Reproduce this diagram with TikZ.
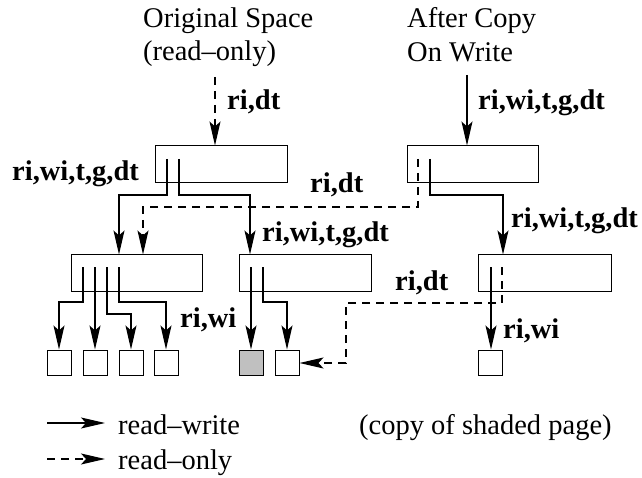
\documentclass[tikz,border=0pt]{standalone}
\usepackage{fontspec}
\setmainfont{Liberation Serif}
\usetikzlibrary{arrows.meta,calc}
\begin{document}
\begin{tikzpicture}[x=1pt,y=-1pt,
  every node/.style={font=\fontsize{28.5}{33}\selectfont},
  lbl/.style={anchor=base west,inner sep=0pt,font=\fontsize{28.5}{33}\selectfont\bfseries},
  txt/.style={anchor=base west,inner sep=0pt},
  page/.style={draw,line width=1pt,inner sep=0pt,minimum height=37pt},
  leaf/.style={draw,line width=1pt,inner sep=0pt,minimum width=24pt,minimum height=25pt},
  tip/.style={-{Stealth[length=24pt,width=11pt,inset=5pt]}},
  rw/.style={line width=1.1pt,tip},
  ro/.style={line width=1.1pt,tip,dash pattern=on 8pt off 6pt}]
\useasboundingbox (0,0) rectangle (642,478);
% headings
\node[txt] (h1) at (143,28) {Original Space};
\node[txt] (h2) at (143,61) {(read–only)};
\node[txt] (h3) at (407,28) {After Copy};
\node[txt] (h4) at (407,62) {On Write};
% pages
\node[page,minimum width=132pt] (box1) at (221,164.5) {};
\node[page,minimum width=131pt] (box3) at (472.5,164.5) {};
\node[page,minimum width=131pt,minimum height=36pt] (box2a) at (136.5,273) {};
\node[page,minimum width=132pt,minimum height=36pt] (box2b) at (305,273) {};
\node[page,minimum width=133pt,minimum height=36pt] (box2c) at (544.5,273) {};
% leaves
\node[leaf] (l1) at (59,362.5) {};
\node[leaf] (l2) at (95,362.5) {};
\node[leaf] (l3) at (131,362.5) {};
\node[leaf] (l4) at (166,362.5) {};
\node[leaf,fill={rgb,255:red,192;green,192;blue,192}] (l5) at (251,362.5) {};
\node[leaf] (l6) at (287,362.5) {};
\node[leaf] (l7) at (490,362.5) {};
% top arrows
\coordinate (t1) at (215,77);
\coordinate (t2) at (467,75);
\draw[ro] (t1) -- (t1 |- box1.north);
\draw[rw] (t2) -- (t2 |- box3.north);
% pointers in box1
\coordinate (p1a) at (167,159);
\coordinate (p1b) at (179,159);
\draw[rw] (p1a) |- ++(-48,36) coordinate (b1) -- (b1 |- box2a.north);
\draw[rw] (p1b) |- ++(71,36) coordinate (b2) -- (b2 |- box2b.north);
% pointers in box3
\coordinate (p3a) at (418,159);
\coordinate (p3b) at (430,159);
\draw[ro] (p3a) |- ++(-275,48) coordinate (b3) -- (b3 |- box2a.north);
\draw[rw] (p3b) |- ++(73,36) coordinate (b4) -- (b4 |- box2c.north);
% pointers in box2a
\coordinate (q1) at (83,267);
\coordinate (q2) at (95,267);
\coordinate (q3) at (107,267);
\coordinate (q4) at (119,267);
\draw[rw] (q1) -- ++(0,35) -| (l1.north);
\draw[rw] (q2) -- (q2 |- l2.north);
\draw[rw] (q3) -- ++(0,47) -| (l3.north);
\draw[rw] (q4) -- ++(0,35) -| (l4.north);
% pointers in box2b
\coordinate (r1) at (251,267);
\coordinate (r2) at (263,267);
\draw[rw] (r1) -- (r1 |- l5.north);
\draw[rw] (r2) -- ++(0,35) -| (l6.north);
% pointers in box2c
\coordinate (s1) at (491,267);
\coordinate (s2) at (502,267);
\draw[rw] (s1) -- (s1 |- l7.north);
\draw[ro] (s2) -- ++(0,36) -| ++(-156,60) coordinate (b6) -- (b6 -| l6.east);
% labels
\node[lbl] (a1) at (227,110) {ri,dt};
\node[lbl] (a2) at (478,110) {ri,wi,t,g,dt};
\node[lbl] (a3) at (12,181) {ri,wi,t,g,dt};
\node[lbl] (a4) at (310,193) {ri,dt};
\node[lbl] (a5) at (511,228) {ri,wi,t,g,dt};
\node[lbl] (a6) at (262,242) {ri,wi,t,g,dt};
\node[lbl] (a7) at (395,290) {ri,dt};
\node[lbl] (a8) at (180,327) {ri,wi};
\node[lbl] (a9) at (503,338) {ri,wi};
% legend
\coordinate (g1) at (47,423);
\coordinate (g2) at (105,423);
\coordinate (g3) at (47,459);
\coordinate (g4) at (105,459);
\draw[rw] (g1) -- (g2);
\draw[ro] (g3) -- (g4);
\node[txt] (k1) at (118,434) {read–write};
\node[txt] (k2) at (118,469) {read–only};
\node[txt] (k3) at (359,434) {(copy of shaded page)};
\end{tikzpicture}
\end{document}
